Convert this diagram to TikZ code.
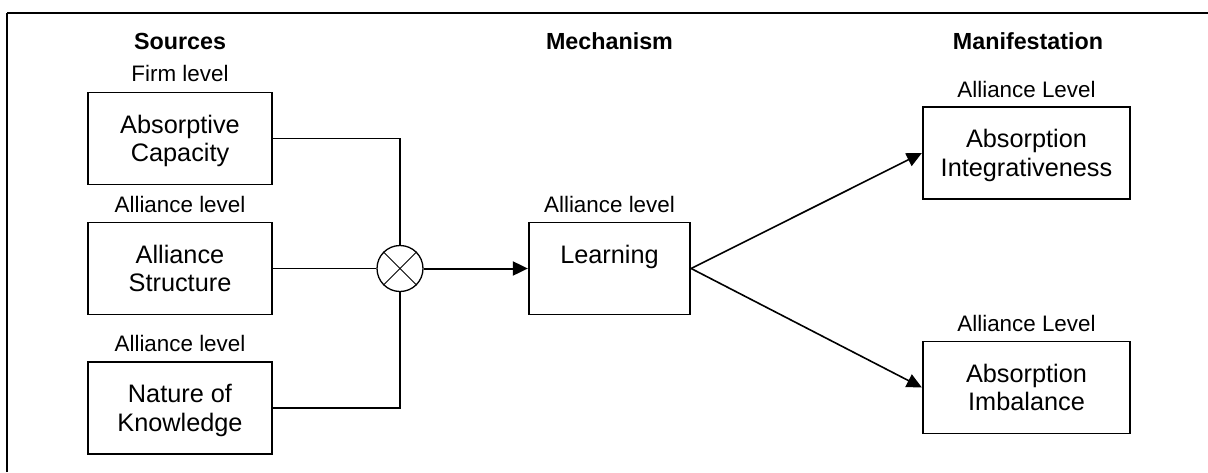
\documentclass[tikz,border=0pt]{standalone}
\usepackage{fontspec}
\setmainfont{Liberation Sans}
\usetikzlibrary{arrows.meta}
\tikzset{
  box/.style={draw, line width=1.8pt, minimum height=92pt, inner sep=0pt,
    align=center, font=\fontsize{25.3}{28.3}\selectfont,
    text height=46.3pt, text depth=0pt},
  onebox/.style={box, text height=18pt, text depth=28.3pt},
  lab/.style={font=\fontsize{22.4}{26}\selectfont, anchor=base, inner sep=0pt},
  hd/.style={font=\fontsize{23.3}{26}\selectfont\bfseries, anchor=base, inner sep=0pt},
  link/.style={line width=1.3pt},
  arr/.style={line width=1.6pt, -{Triangle[length=15pt,width=14pt]}},
}
\begin{document}
\begin{tikzpicture}[x=1pt,y=-1pt]
\useasboundingbox (0,0) rectangle (1208,472);

% outer frame (open to the right and bottom)
\coordinate (fl) at (7,472);
\coordinate (fc) at (7,13);
\coordinate (fr) at (1208,13);
\draw[line width=1.5pt] (fl) -- (fc);
\draw[line width=2pt] (fc) -- (fr);

% column headers
\node[hd] (hs) at (180,49.3) {Sources};
\node[hd] (hm) at (609.5,49.3) {Mechanism};
\node[hd] (hf) at (1028,49.3) {Manifestation};

% sources
\node[lab] (l1) at (180,81.7) {Firm level};
\node[box, minimum width=184.5pt] (ac) at (180,138.5) {Absorptive\\Capacity};
\node[lab] (l2) at (180,212) {Alliance level};
\node[box, minimum width=184.5pt] (as) at (180,268.5) {Alliance\\Structure};
\node[lab] (l3) at (180,351.5) {Alliance level};
\node[box, minimum width=184.5pt] (nk) at (180,408) {Nature of\\Knowledge};

% combination point
\node[draw, circle, minimum size=46pt, inner sep=0pt, line width=1.3pt] (mix) at (400,268.5) {};
\draw[line width=1pt] (mix.north west) -- (mix.south east);
\draw[line width=1pt] (mix.north east) -- (mix.south west);

% mechanism
\node[lab] (l4) at (609.5,212) {Alliance level};
\node[onebox, minimum width=161.5pt] (le) at (609.5,268.5) {Learning};

% manifestation
\node[lab] (l5) at (1026.5,97) {Alliance Level};
\node[box, minimum width=207.5pt] (ai) at (1026.5,153) {Absorption\\Integrativeness};
\node[lab] (l6) at (1026.5,331) {Alliance Level};
\node[box, minimum width=207.5pt] (ib) at (1026.5,387.5) {Absorption\\Imbalance};

% connectors
\draw[link] (ac.east) -| (mix.north);
\draw[link] (as.east) -- (mix.west);
\draw[link] (nk.east) -| (mix.south);
\draw[line width=2pt, -{Triangle[length=15pt,width=14pt]}] (mix.east) -- (le.west);
\draw[arr] (le.east) -- (ai.west);
\draw[arr] (le.east) -- (ib.west);
\end{tikzpicture}
\end{document}
